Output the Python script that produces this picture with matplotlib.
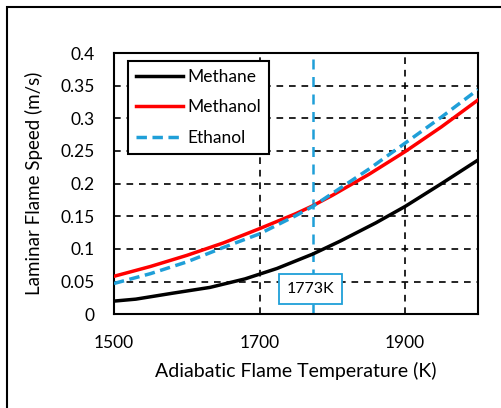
import matplotlib.pyplot as plt
from matplotlib.patches import Rectangle

plt.rcParams['font.family'] = ['Lato', 'DejaVu Sans']

# Laminar flame speed vs adiabatic flame temperature
t_methane = [1500, 1530, 1580, 1632, 1680, 1724, 1773, 1811, 1860, 1900, 1950, 2000]
s_methane = [0.020, 0.023, 0.032, 0.041, 0.054, 0.070, 0.092, 0.112, 0.140, 0.165, 0.200, 0.236]

t_alcohol = [1500, 1550, 1600, 1650, 1700, 1750, 1773, 1800, 1850, 1900, 1950, 2000]
s_methanol = [0.058, 0.073, 0.090, 0.109, 0.131, 0.154, 0.166, 0.182, 0.214, 0.249, 0.287, 0.328]
s_ethanol = [0.047, 0.062, 0.080, 0.102, 0.123, 0.151, 0.165, 0.185, 0.222, 0.262, 0.302, 0.344]

t_mark = 1773
xticks = [1500, 1700, 1900]
yticks = [0, 0.05, 0.1, 0.15, 0.2, 0.25, 0.3, 0.35, 0.4]
ytick_labels = ['0', '0.05', '0.1', '0.15', '0.2', '0.25', '0.3', '0.35', '0.4']

blue = '#1f9fd8'

fig = plt.figure(figsize=(5.02, 4.08), dpi=100)
ax = fig.add_axes([0.227, 0.230, 0.725, 0.640])

for yv in yticks[1:-1]:
    ax.axhline(yv, color='black', lw=1.2, ls=(0, (4, 3.5)), zorder=1)
for xv in xticks[1:]:
    ax.axvline(xv, color='black', lw=1.2, ls=(0, (4, 3.5)), zorder=1)
ax.axvline(t_mark, color=blue, lw=1.8, ls=(0, (4, 3)), zorder=2)

ax.plot(t_methane, s_methane, color='black', lw=2.5, label='Methane', zorder=3)
ax.plot(t_alcohol, s_methanol, color='#ff0000', lw=2.5, label='Methanol', zorder=3)
ax.plot(t_alcohol, s_ethanol, color=blue, lw=2.5, ls=(0, (3, 1.6)), label='Ethanol', zorder=4)

ax.text(t_mark - 3, 0.038, '1773K', ha='center', va='center', fontsize=11.5,
        bbox=dict(boxstyle='square,pad=0.5', fc='white', ec=blue, lw=1.3), zorder=5)

ax.set_xlim(1500, 2000)
ax.set_ylim(0, 0.4)
ax.set_xticks(xticks)
ax.set_yticks(yticks)
ax.set_yticklabels(ytick_labels)
ax.tick_params(length=0, labelsize=12.5)
ax.tick_params(axis='y', pad=14)
ax.tick_params(axis='x', pad=15)
for sp in ax.spines.values():
    sp.set_linewidth(1.5)

ax.set_xlabel('Adiabatic Flame Temperature (K)', fontsize=14, labelpad=8)
ax.set_ylabel('Laminar Flame Speed (m/s)', fontsize=13.5, labelpad=12)

leg = ax.legend(loc='upper left', bbox_to_anchor=(0.0385, 0.97), borderaxespad=0,
                fontsize=12.5, handlelength=2.7, handletextpad=0.29,
                labelspacing=0.85, borderpad=0.45, fancybox=False,
                framealpha=1, edgecolor='black')
leg.get_frame().set_linewidth(1.5)
leg.set_zorder(6)

# outer frame around the whole figure
fig.patches.append(Rectangle((7 / 502, -0.1), 1.2, 1 - 7 / 408 + 0.1,
                             transform=fig.transFigure, fill=False,
                             ec='black', lw=1.5))

fig.savefig('out.png', dpi=100)
